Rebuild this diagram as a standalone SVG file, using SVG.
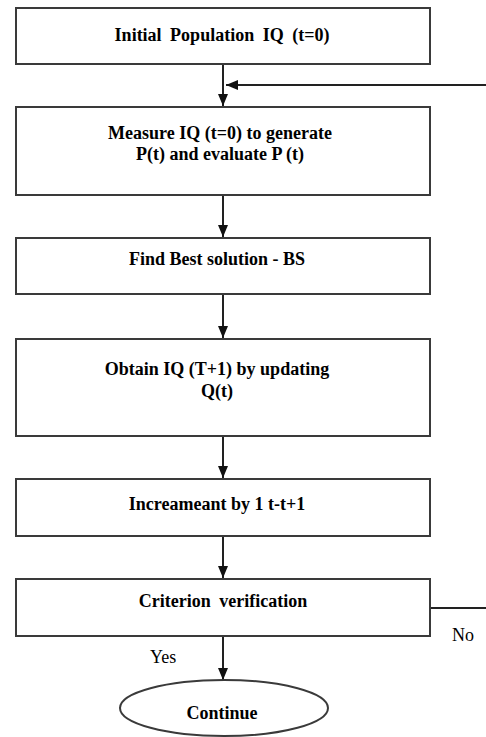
<svg xmlns="http://www.w3.org/2000/svg" width="486" height="737" viewBox="0 0 486 737">
<defs>
<style>
.box{fill:#fff;stroke:#3a3a3a;stroke-width:2}
.t{font-family:"Liberation Serif","Times New Roman",serif;font-weight:bold;font-size:18px;fill:#000;text-anchor:middle}
.lbl{font-family:"Liberation Serif","Times New Roman",serif;font-size:18px;fill:#000}
.c{fill:none;stroke:#222;stroke-width:2}
</style>
<marker id="ah" markerWidth="12" markerHeight="12" viewBox="0 0 12 12" refX="12" refY="6" orient="auto" markerUnits="userSpaceOnUse">
<path d="M0,1 L12,6 L0,11 Z" fill="#111"/>
</marker>
</defs>
<rect width="486" height="737" fill="#fff"/>
<g id="connectors">
<line class="c" x1="223" y1="64" x2="223" y2="106" marker-end="url(#ah)"/>
<path class="c" d="M430,608 L488,608 L488,85 L226,85" marker-end="url(#ah)"/>
<line class="c" x1="223" y1="195" x2="223" y2="237" marker-end="url(#ah)"/>
<line class="c" x1="223" y1="294" x2="223" y2="338" marker-end="url(#ah)"/>
<line class="c" x1="223" y1="436" x2="223" y2="478" marker-end="url(#ah)"/>
<line class="c" x1="223" y1="536" x2="223" y2="578" marker-end="url(#ah)"/>
<line class="c" x1="223" y1="636" x2="223" y2="680" marker-end="url(#ah)"/>
<text class="lbl" x="150" y="663">Yes</text>
<text class="lbl" x="452" y="641">No</text>
</g>
<g id="n1">
<rect class="box" x="16" y="8" width="414" height="56"/>
<text class="t" x="222" y="41" word-spacing="4">Initial Population IQ (t=0)</text>
</g>
<g id="n2">
<rect class="box" x="16" y="107" width="414" height="88"/>
<text class="t" x="220" y="139">Measure IQ (t=0) to generate</text>
<text class="t" x="220" y="160">P(t) and evaluate P (t)</text>
</g>
<g id="n3">
<rect class="box" x="16" y="238" width="414" height="56"/>
<text class="t" x="217" y="265">Find Best solution - BS</text>
</g>
<g id="n4">
<rect class="box" x="16" y="339" width="414" height="97"/>
<text class="t" x="217" y="375">Obtain IQ (T+1) by updating</text>
<text class="t" x="217" y="397">Q(t)</text>
</g>
<g id="n5">
<rect class="box" x="16" y="479" width="414" height="57"/>
<text class="t" x="217" y="510">Increameant by 1 t-t+1</text>
</g>
<g id="n6">
<rect class="box" x="16" y="579" width="414" height="57"/>
<text class="t" x="223" y="607" word-spacing="4">Criterion verification</text>
</g>
<g id="n7">
<ellipse class="box" cx="224" cy="708" rx="104" ry="28"/>
<text class="t" x="222" y="719">Continue</text>
</g>
</svg>
